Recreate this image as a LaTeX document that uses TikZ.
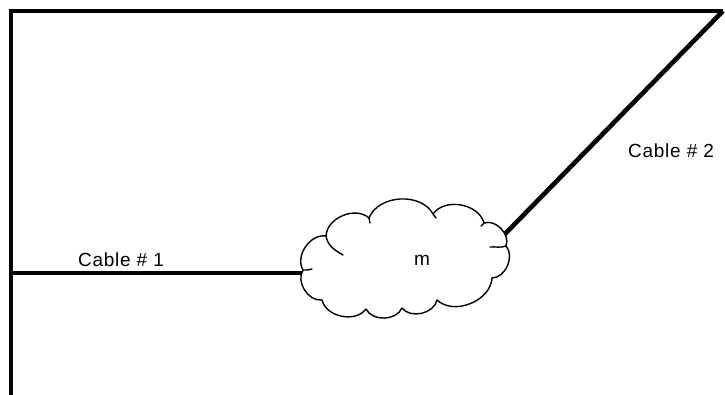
\documentclass[tikz,border=0pt]{standalone}
\usepackage{fontspec}
\setmainfont{Liberation Sans}
\tikzset{
  wall/.style={line width=4.6pt},
  cable/.style={line width=4.6pt},
  puff/.style={bend left=65},
  cloudline/.style={line width=1.4pt, line join=round, line cap=round},
  lbl/.style={font=\fontsize{19}{22}\selectfont\addfontfeature{LetterSpace=4}, inner sep=0pt, anchor=base}
}
\begin{document}
\begin{tikzpicture}[x=1pt,y=-1pt]
\useasboundingbox (0,0) rectangle (725,394);
\coordinate (wallbot) at (11,396);
\coordinate (walltop) at (11,11);
\coordinate (corner) at (723,11);
\coordinate (j1) at (11,273);
\coordinate (c1) at (340,273);
\coordinate (c2) at (480,259.5);
\draw[wall, line join=miter] (wallbot) -- (walltop) -- (corner);
\draw[cable] (j1) -- (c1);
\draw[cable] (corner) -- (c2);
% cloud cusps
\coordinate (A) at (303,270);
\coordinate (B) at (326,236);
\coordinate (C) at (369,218);
\coordinate (D) at (433,214);
\coordinate (E) at (484,223);
\coordinate (F) at (506,246);
\coordinate (G) at (492,278);
\coordinate (H) at (437,300);
\coordinate (I) at (402,308);
\coordinate (J) at (366,309);
\coordinate (K) at (322,300);
\draw[cloudline, fill=white] (A) to[puff] (B) to[puff] (C) to[puff] (D) to[puff] (E)
  to[puff] (F) to[puff] (G) to[puff] (H) to[puff] (I) to[puff] (J) to[puff] (K) to[puff] cycle;
% inner hooks
\draw[cloudline] (B) to[out=-80, in=150] (343,255);
\draw[cloudline] (C) -- (370,223);
\draw[cloudline] (D) -- (436,218);
\draw[cloudline] (E) -- (481,226);
\draw[cloudline] (F) to[out=200, in=5] (490,247);
\draw[cloudline] (A) to[out=10, in=210] (312,269);
\node[lbl] (m) at (422,265) {m};
\node[lbl] (l1) at (121,266) {Cable \# 1};
\node[lbl] (l2) at (671,157) {Cable \# 2};
\end{tikzpicture}
\end{document}
